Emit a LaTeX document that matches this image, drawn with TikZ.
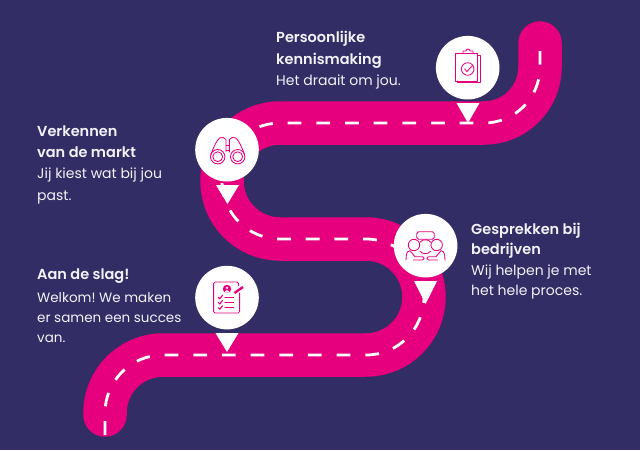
\documentclass[tikz,border=0pt]{standalone}
\usepackage{fontspec}
\setmainfont[BoldFont={Poppins SemiBold}]{Poppins}
\frenchspacing
\definecolor{nightblue}{HTML}{322D64}
\definecolor{roadpink}{HTML}{E6007E}
\definecolor{paleline}{HTML}{F3F1F8}
\newcommand{\roadmiddle}{(105,413) arc[start angle=180, end angle=270, radius=58] -- (366,355)
    arc[start angle=90, end angle=-90, radius=58] -- (280,239)
    arc[start angle=90, end angle=270, radius=58] -- (484,123)
    arc[start angle=90, end angle=0, radius=56]}
\newcommand{\headline}[1]{{\fontsize{14.5}{21.2}\selectfont\bfseries #1}}
\tikzset{
    road/.style = {draw=roadpink, line width=43.5pt, line cap=round},
    roaddash/.style = {draw=white, line width=2.8pt, dash pattern=on 13.8pt off 14.87pt},
    stopnode/.style = {circle, fill=white, minimum size=63.6pt, inner sep=0pt},
    pinmark/.style = {fill=white},
    icon/.style = {draw=roadpink, line width=0.85pt, line join=round, line cap=round},
    textblock/.style = {anchor=north west, align=left, inner sep=0pt, text=paleline, font=\fontsize{14}{21.2}\selectfont},
    tightblock/.style = {textblock, font=\fontsize{13.5}{20.3}\selectfont}
}
\begin{document}
\begin{tikzpicture}[x=1pt, y=-1pt]
    \useasboundingbox (0,0) rectangle (640,450);
    \fill[nightblue] (0,0) rectangle (640,450);

    % the road
    \draw[road] (105,415) -- \roadmiddle -- (540,43);
    \draw[roaddash] (105,435) -- \roadmiddle -- (540,51);

    % the pins
    \fill[pinmark] (456.5,103) -- (479.5,103) -- (468,123) -- cycle;
    \fill[pinmark] (216,185) -- (239,185) -- (227.5,204) -- cycle;
    \fill[pinmark] (414,281) -- (437,281) -- (425.5,304) -- cycle;
    \fill[pinmark] (215.5,333) -- (238.5,333) -- (227,352) -- cycle;
    \node[stopnode] (clipboard) at (467.7,67.7) {};
    \node[stopnode] (binoculars) at (227,149.7) {};
    \node[stopnode] (meeting) at (425.6,245.7) {};
    \node[stopnode] (tasklist) at (227,297.6) {};

    % clipboard icon
    \draw[icon] (463,53) -- (463,51) -- (466,51) arc[start angle=180, end angle=360, radius=2] -- (473,51) -- (473,53);
    \draw[icon] (455.3,53) rectangle (477.7,81);
    \draw[icon] (477.7,55) -- (480,55) -- (480,82.8) -- (457.5,82.8) -- (457.5,81);
    \draw[icon] (467.7,69) circle[radius=6.3];
    \draw[icon] (464.6,68.8) -- (467,71.6) -- (472.6,65.4);

    % binoculars icon
    \foreach \cx in {217.7,237.7} {
        \draw[icon] (\cx,156.7) circle[radius=7.2];
        \draw[icon] (\cx,156.7) circle[radius=4.9];
    }
    \draw[icon] (210.8,155) .. controls (213,148) and (217,140) .. (219.5,138) .. controls (221.5,136.5) and (225,137.5) .. (226,139.5) -- (226,152);
    \draw[icon] (244.6,155) .. controls (242.4,148) and (238.4,140) .. (235.9,138) .. controls (233.9,136.5) and (230.4,137.5) .. (229.4,139.5) -- (229.4,152);
    \draw[icon] (226,145) -- (229.4,145) (226,150) -- (229.4,150);

    % meeting icon
    \draw[icon, rounded corners=1.8pt] (416.7,231.7) rectangle (434.3,239.3);
    \draw[icon] (414,245) circle[radius=5.7];
    \draw[icon] (436.7,245) circle[radius=5.7];
    \draw[icon] (419.9,242.2) arc[start angle=220, end angle=320, radius=7];
    \draw[icon] (430.7,251.2) arc[start angle=40, end angle=140, radius=7];
    \draw[icon] (406,260) -- (406.4,254.5) .. controls (406.8,252) and (408,251.3) .. (410,250.7)
        -- (415,256.7) -- (422,256.7) .. controls (424.8,257) and (424.8,260) .. (422.3,260) -- (413.3,260);
    \draw[icon] (445,260) -- (444.6,254.5) .. controls (444.2,252) and (443,251.3) .. (441,250.7)
        -- (436,256.7) -- (429,256.7) .. controls (426.2,257) and (426.2,260) .. (428.7,260) -- (437.7,260);

    % task list icon
    \draw[icon, rounded corners=1.5pt] (238.5,286) -- (238.5,282) -- (213.6,282) -- (213.6,313) -- (239.6,313) -- (239.6,293);
    \fill[roadpink] (227,289) circle[radius=4.2];
    \fill[white] (227,287.8) circle[radius=1.3];
    \fill[white] (224.6,292.6) arc[start angle=180, end angle=360, radius=2.4] -- cycle;
    \draw[roadpink, line width=2.4pt] (234.5,293) -- (243,287);
    \foreach \rowy in {297.3,302.5,307.7} {
        \draw[icon, line width=1.1pt] (218.3,\rowy) -- (219.8,\rowy+1.5) -- (222.5,\rowy-2);
        \draw[icon, line width=1.1pt] (225,\rowy) -- (233.5,\rowy);
    }

    % the texts
    \node[textblock] (persoonlijk) at (276,31.3) {\headline{Persoonlijke}\\\headline{kennismaking}\\Het draait om jou.};
    \node[textblock] (verkennen) at (37,125.6) {\headline{Verkennen}\\\headline{van de markt}\\Jij kiest wat bij jou\\past.};
    \node[tightblock, font=\fontsize{14}{20.5}\selectfont] (gesprekken) at (471,222.6) {\headline{Gesprekken bij}\\\headline{bedrijven}\\Wij helpen je met\\het hele proces.};
    \node[tightblock] (aandeslag) at (37,268.6) {\headline{Aan de slag!}\\[2.5pt]Welkom! We maken\\er samen een succes\\van.};
\end{tikzpicture}
\end{document}
